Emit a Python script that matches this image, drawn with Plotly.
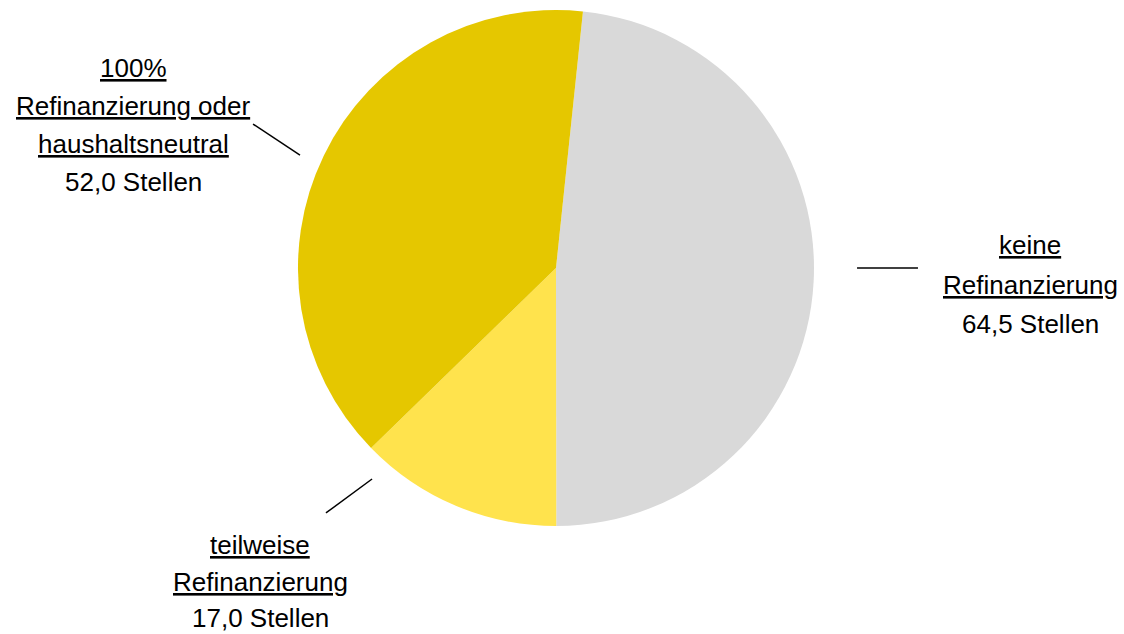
import plotly.graph_objects as go

# Stellen nach Refinanzierungsart
categories = ['keine Refinanzierung', 'teilweise Refinanzierung', '100% Refinanzierung oder haushaltsneutral']
stellen = [64.5, 17.0, 52.0]
colors = ['#d9d9d9', '#ffe34d', '#e5c700']

label_lines = [
    ['keine', 'Refinanzierung'],
    ['teilweise', 'Refinanzierung'],
    ['100%', 'Refinanzierung oder', 'haushaltsneutral'],
]


def fmt(v):
    return f'{v:.1f}'.replace('.', ',') + ' Stellen'


fig = go.Figure()
fig.add_trace(go.Pie(
    labels=categories, values=stellen, sort=False,
    direction='clockwise', rotation=6,
    marker=dict(colors=colors, line=dict(width=0)),
    textinfo='none', hoverinfo='label+value', showlegend=False,
    domain=dict(x=[0.2642, 0.7251], y=[0.1703, 0.9842]),
))

font = dict(family='Liberation Sans Narrow, Arial Narrow, Liberation Sans, sans-serif', size=26, color='black')
# label block: x centre and y of first line (pixels), line step
blocks = [(1030, 245, 39.5), (260, 545, 36.5), (133, 68, 38)]
for (bx, by, step), lines, v in zip(blocks, label_lines, stellen):
    texts = ['<span style="text-decoration:underline">' + s + '</span>' for s in lines] + [fmt(v)]
    for i, t in enumerate(texts):
        fig.add_annotation(x=bx / 1124, y=1 - (by + i * step) / 634, xref='paper', yref='paper',
                           text=t, showarrow=False, font=font,
                           xanchor='center', yanchor='middle')

# Leader lines
leaders = [
    (0.7625, 0.5773, 0.8167, 0.5773),
    (0.2251, 0.8044, 0.2669, 0.7555),
    (0.2900, 0.1909, 0.3310, 0.2445),
]
for x0, y0, x1, y1 in leaders:
    fig.add_shape(type='line', xref='paper', yref='paper', x0=x0, y0=y0, x1=x1, y1=y1,
                  line=dict(color='black', width=1.5))

fig.update_layout(width=1124, height=634, margin=dict(l=0, r=0, t=0, b=0),
                  paper_bgcolor='white', plot_bgcolor='white')
fig.write_html("out.html", config={'displayModeBar': False},
               post_script="document.body.style.margin='0';")
